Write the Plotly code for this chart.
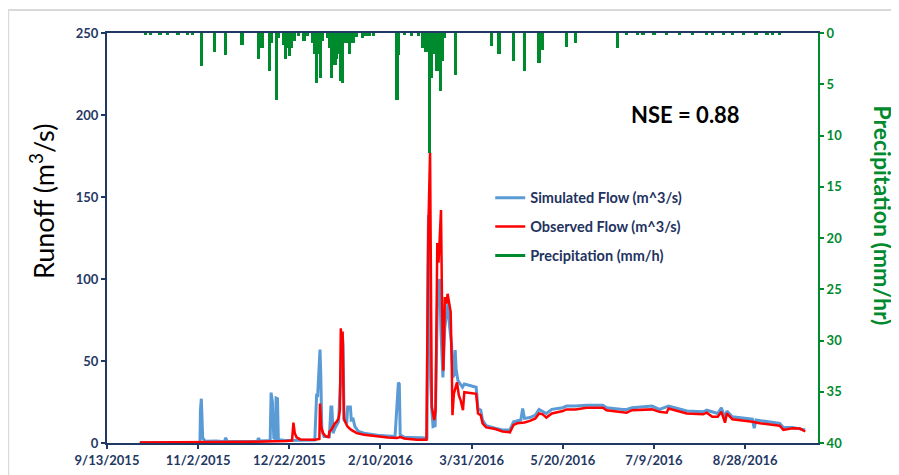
import plotly.graph_objects as go

# ---------------- data ----------------
obs_dates = ["2015-10-01", "2015-11-01", "2015-12-01", "2015-12-20", "2015-12-23 12:00", "2015-12-24 06:00",
             "2015-12-25", "2015-12-26", "2015-12-28", "2016-01-05", "2016-01-07 12:00", "2016-01-07 20:00",
             "2016-01-08 12:00", "2016-01-09 12:00", "2016-01-11", "2016-01-12 12:00", "2016-01-13", "2016-01-14",
             "2016-01-15", "2016-01-16", "2016-01-17", "2016-01-18", "2016-01-18 18:00", "2016-01-19 06:00",
             "2016-01-19 18:00", "2016-01-20 06:00", "2016-01-20 18:00", "2016-01-21", "2016-01-22", "2016-01-23",
             "2016-01-25", "2016-01-28", "2016-02-01", "2016-02-08", "2016-02-14", "2016-02-19", "2016-02-21",
             "2016-02-23", "2016-03-01", "2016-03-06 06:00", "2016-03-06 18:00", "2016-03-07 06:00",
             "2016-03-08 05:00", "2016-03-08 20:00", "2016-03-09 04:00", "2016-03-10 12:00", "2016-03-11 06:00",
             "2016-03-12 04:00", "2016-03-12 20:00", "2016-03-13 12:00", "2016-03-14 05:00", "2016-03-14 20:00",
             "2016-03-15 12:00", "2016-03-16 08:00", "2016-03-17 06:00", "2016-03-17 20:00", "2016-03-18 18:00",
             "2016-03-19 12:00", "2016-03-20 02:00", "2016-03-20 12:00", "2016-03-21 06:00", "2016-03-22 06:00",
             "2016-03-23", "2016-03-24", "2016-03-25", "2016-03-26 06:00", "2016-03-27", "2016-04-02 12:00",
             "2016-04-03 12:00", "2016-04-05", "2016-04-06", "2016-04-08", "2016-04-13", "2016-04-17", "2016-04-21",
             "2016-04-23", "2016-04-25", "2016-04-29", "2016-05-02", "2016-05-05", "2016-05-07", "2016-05-09",
             "2016-05-11", "2016-05-14", "2016-05-20", "2016-05-22", "2016-05-27", "2016-06-02", "2016-06-11",
             "2016-06-13", "2016-06-22", "2016-06-24", "2016-06-27", "2016-07-08", "2016-07-12", "2016-07-16",
             "2016-07-17", "2016-07-22", "2016-07-27", "2016-08-05", "2016-08-07", "2016-08-10", "2016-08-13",
             "2016-08-15", "2016-08-17", "2016-08-18", "2016-08-21", "2016-09-01", "2016-09-05", "2016-09-16",
             "2016-09-18", "2016-09-23", "2016-09-27", "2016-09-30"]
obs_flow = [0.3, 0.4, 0.8, 1.2, 1.5, 12.4,
            6, 3.5, 2.2, 2.0, 2.5, 24,
            10, 6, 4, 3.5, 7, 8,
            10, 12, 13, 15, 20, 70,
            60, 68, 30, 15, 12, 10,
            8, 6, 5, 4, 3.3, 3.0, 3.6,
            2.8, 2.0, 2.0, 60, 130,
            177, 40, 22, 14, 20,
            122, 110, 125, 142, 80,
            44, 89, 85, 91, 86,
            80, 50, 17, 30, 35,
            37, 29, 26, 20, 31, 30,
            18, 17, 12, 9.5, 8.5, 7.0, 6.5,
            11, 12, 12.5, 13.5, 15, 18, 17.5,
            15.5, 18, 19.5, 20.5, 20.5, 21.5, 21.5,
            20, 19, 18.5, 20, 20.5, 19, 18.5,
            21, 19.5, 18, 17.5, 18.5, 16, 16,
            19, 12.4, 18, 14.5, 13, 12, 10.5,
            8, 9, 8.8, 7]

sim_dates = ["2015-10-01", "2015-11-03", "2015-11-03 06:00", "2015-11-03 18:00", "2015-11-04 12:00", "2015-11-06",
             "2015-11-12", "2015-11-16 12:00", "2015-11-17", "2015-11-18", "2015-12-04 12:00", "2015-12-05",
             "2015-12-06", "2015-12-11 12:00", "2015-12-12", "2015-12-12 18:00", "2015-12-13 12:00",
             "2015-12-14 12:00", "2015-12-14 18:00", "2015-12-15 12:00", "2015-12-16", "2015-12-20", "2016-01-05",
             "2016-01-06", "2016-01-06 12:00", "2016-01-07 20:00", "2016-01-08 06:00", "2016-01-08 20:00",
             "2016-01-10", "2016-01-13", "2016-01-13 20:00", "2016-01-14 08:00", "2016-01-15", "2016-01-16",
             "2016-01-18", "2016-01-19 06:00", "2016-01-20", "2016-01-20 12:00", "2016-01-21", "2016-01-22 12:00",
             "2016-01-23", "2016-01-24 12:00", "2016-01-25", "2016-01-26", "2016-01-27", "2016-01-29", "2016-02-01",
             "2016-02-10", "2016-02-18", "2016-02-19 12:00", "2016-02-19 20:00", "2016-02-20 08:00",
             "2016-02-20 20:00", "2016-02-23", "2016-03-05", "2016-03-06 12:00", "2016-03-07", "2016-03-07 08:00",
             "2016-03-08", "2016-03-08 12:00", "2016-03-09 04:00", "2016-03-09 20:00", "2016-03-11", "2016-03-12 06:00",
             "2016-03-12 20:00", "2016-03-13 12:00", "2016-03-14 06:00", "2016-03-15 06:00", "2016-03-16 06:00",
             "2016-03-17", "2016-03-18", "2016-03-19", "2016-03-20", "2016-03-20 18:00", "2016-03-21 12:00",
             "2016-03-22", "2016-03-22 12:00", "2016-03-23 12:00", "2016-03-25", "2016-03-26", "2016-03-27",
             "2016-04-02 12:00", "2016-04-03 12:00", "2016-04-05", "2016-04-06", "2016-04-08", "2016-04-13",
             "2016-04-17", "2016-04-21", "2016-04-23", "2016-04-27", "2016-04-28", "2016-04-29", "2016-05-02",
             "2016-05-05", "2016-05-07", "2016-05-11", "2016-05-14", "2016-05-20", "2016-05-22", "2016-05-27",
             "2016-06-02", "2016-06-11", "2016-06-13", "2016-06-22", "2016-06-24", "2016-06-27", "2016-07-08",
             "2016-07-12", "2016-07-17", "2016-07-22", "2016-07-27", "2016-08-05", "2016-08-07", "2016-08-13",
             "2016-08-15", "2016-08-17", "2016-08-18", "2016-08-21", "2016-09-01", "2016-09-02", "2016-09-03",
             "2016-09-16", "2016-09-18", "2016-09-23", "2016-09-30"]
sim_flow = [0.3, 0.5, 20, 27, 3, 1,
            1.2, 0.8, 3.2, 1.0, 0.9, 3,
            1.2, 1.5, 30.7, 25, 3,
            2.5, 27.4, 27, 2, 1.5, 1.8,
            30, 28, 57, 42, 8,
            4, 4, 22, 22, 6, 9,
            13, 40, 67, 60, 14, 12,
            22, 22, 14, 14.5, 10, 7, 6,
            4.5, 4, 30, 36.8, 36,
            5, 3.5, 2.8, 3, 100, 139,
            120, 40, 20, 10, 10.5, 85,
            95, 100, 67, 40, 70,
            78, 85, 70, 60, 40, 42,
            56.7, 45, 38, 36, 34, 36,
            34, 21, 20, 14, 10.5, 9,
            8, 8, 13, 14, 21, 15, 15.5,
            17, 20.5, 18, 20.5, 21.5, 22.5, 22.5,
            23, 23, 21.5, 20.5, 20.5, 21.5, 22.5,
            20.5, 22.5, 21, 19.5, 19, 20, 18,
            21.5, 15, 19.5, 16, 14.5, 9, 14,
            12, 9.5, 9.5, 8]

precip_dates = ["2015-10-04", "2015-10-07", "2015-10-12", "2015-10-16", "2015-10-22", "2015-10-27", "2015-10-30",
                "2015-11-04", "2015-11-11", "2015-11-17", "2015-11-26", "2015-12-05", "2015-12-06", "2015-12-07",
                "2015-12-11", "2015-12-12", "2015-12-15", "2015-12-16", "2015-12-19", "2015-12-20", "2015-12-21",
                "2015-12-22", "2015-12-23", "2015-12-24", "2015-12-25", "2015-12-27", "2015-12-30", "2016-01-01",
                "2016-01-04", "2016-01-05", "2016-01-06", "2016-01-07", "2016-01-08", "2016-01-09", "2016-01-12",
                "2016-01-13", "2016-01-14", "2016-01-15", "2016-01-16", "2016-01-17", "2016-01-18", "2016-01-19",
                "2016-01-20", "2016-01-21", "2016-01-23", "2016-01-24", "2016-01-26", "2016-01-28", "2016-01-31",
                "2016-02-02", "2016-02-04", "2016-02-06", "2016-02-19", "2016-02-20", "2016-02-23", "2016-02-27",
                "2016-03-02", "2016-03-04", "2016-03-05", "2016-03-06", "2016-03-07", "2016-03-08", "2016-03-09",
                "2016-03-10", "2016-03-11", "2016-03-12", "2016-03-13", "2016-03-14", "2016-03-15", "2016-03-16",
                "2016-03-22", "2016-04-11", "2016-04-15", "2016-04-23", "2016-04-29", "2016-05-07", "2016-05-09",
                "2016-05-22", "2016-05-27", "2016-06-19", "2016-06-24", "2016-06-30", "2016-07-03", "2016-07-09",
                "2016-07-16", "2016-07-23", "2016-07-30", "2016-08-07", "2016-08-10", "2016-08-16", "2016-08-21",
                "2016-08-27", "2016-09-03", "2016-09-09", "2016-09-12", "2016-09-16"]
precip_mm = [0.1, 0.15, 0.1, 0.1, 0.15, 0.1, 0.1,
             3.2, 1.9, 2.1, 1.2, 2.5, 0.6, 1.5,
             3.7, 1.0, 6.5, 0.5, 1.2, 2.5, 1.5,
             2.2, 1.5, 0.6, 0.8, 0.3, 0.8, 0.3,
             1.0, 2.0, 4.9, 2.0, 4.4, 0.8, 0.5,
             1.5, 4.4, 2.5, 3.1, 2.5, 2.0, 4.7,
             4.9, 1.0, 1.0, 2.0, 1.0, 0.4, 0.5,
             0.3, 0.3, 0.3, 6.5, 2.1, 0.2, 0.3,
             0.3, 1.5, 1.0, 1.9, 1.5, 11.7, 4.4,
             2.0, 1.8, 3.7, 2.0, 5.7, 2.7, 0.5,
             4.1, 1.3, 2.0, 2.7, 3.7, 2.9, 1.7,
             1.4, 1.0, 1.5, 0.15, 0.15, 0.15, 0.15,
             0.15, 0.15, 0.15, 0.15, 0.15, 0.15, 0.15,
             0.15, 0.15, 0.15, 0.15, 0.15]

x_tick_vals = ["2015-09-13", "2015-11-02", "2015-12-22", "2016-02-10", "2016-03-31", "2016-05-20",
               "2016-07-09", "2016-08-28"]
x_tick_text = ["9/13/2015", "11/2/2015", "12/22/2015", "2/10/2016", "3/31/2016", "5/20/2016",
               "7/9/2016", "8/28/2016"]
runoff_ticks = [0, 50, 100, 150, 200, 250]
precip_ticks = [0, 5, 10, 15, 20, 25, 30, 35, 40]

# ---------------- style ----------------
NAVY = "#1F3864"
GREEN = "#008A2E"
BLUE = "#5B9BD5"
RED = "#FF0000"
FONT = "Lato"

fig = go.Figure()
fig.add_trace(go.Scatter(x=sim_dates, y=sim_flow, mode="lines", name="Simulated Flow (m^3/s)",
                         line=dict(color=BLUE, width=3), legendgroup="a"))
fig.add_trace(go.Scatter(x=obs_dates, y=obs_flow, mode="lines", name="Observed Flow (m^3/s)",
                         line=dict(color=RED, width=2.5), legendgroup="b"))
fig.add_trace(go.Bar(x=precip_dates, y=precip_mm, yaxis="y2", marker=dict(color=GREEN, line=dict(width=0)),
                     width=1.8 * 86400000, showlegend=False, name="Precipitation (mm/h)"))
fig.add_trace(go.Scatter(x=[None], y=[None], mode="lines", name="Precipitation (mm/h)",
                         line=dict(color=GREEN, width=3), legendgroup="c"))

tickfont_navy = dict(family=FONT, size=13, color=NAVY, weight="bold")
fig.update_layout(
    width=891, height=467,
    margin=dict(l=99, r=81, t=25, b=32, autoexpand=False),
    paper_bgcolor="white", plot_bgcolor="white",
    showlegend=True,
    bargap=0,
    legend=dict(x=0.539, y=0.637, xanchor="left", yanchor="top", bgcolor="rgba(0,0,0,0)",
                font=dict(family=FONT, size=14.5, color="#22325E", weight="bold"), tracegroupgap=7,
                itemwidth=30),
    xaxis=dict(type="date", range=["2015-09-13", "2016-10-07"], tickvals=x_tick_vals, ticktext=x_tick_text,
               showline=True, linecolor=NAVY, linewidth=2, mirror=True, ticks="outside", ticklen=4,
               tickcolor=NAVY, tickwidth=1.5, showgrid=False, zeroline=False, tickfont=tickfont_navy,
               automargin=False),
    yaxis=dict(range=[0, 250], tickvals=runoff_ticks, showline=True, linecolor=NAVY, linewidth=2,
               ticks="outside", ticklen=4, tickcolor=NAVY, tickwidth=1.5, showgrid=False, zeroline=False,
               tickfont=tickfont_navy, automargin=False),
    yaxis2=dict(range=[40, 0], tickvals=precip_ticks, overlaying="y", side="right", showline=True,
                linecolor=GREEN, linewidth=2, ticks="outside", ticklen=4, tickcolor=GREEN, tickwidth=1.5,
                showgrid=False, zeroline=False, automargin=False,
                tickfont=dict(family=FONT, size=13, color=GREEN, weight="bold")),
    annotations=[
        dict(text="NSE = 0.88", x=0.814, y=0.80, xref="paper", yref="paper", showarrow=False,
             xanchor="center", yanchor="middle",
             font=dict(family=FONT, size=22, color="black", weight="bold")),
        dict(text="Runoff (m<sup>3</sup>/s)", x=-0.0914, y=0.59, xref="paper", yref="paper", showarrow=False,
             xanchor="center", yanchor="middle", textangle=-90,
             font=dict(family=FONT, size=27, color="black")),
        dict(text="Precipitation (mm/hr)", x=1.092, y=0.554, xref="paper", yref="paper", showarrow=False,
             xanchor="center", yanchor="middle", textangle=90,
             font=dict(family=FONT, size=23, color=GREEN, weight="bold")),
    ],
    shapes=[dict(type="rect", xref="paper", yref="paper", x0=-0.139, x1=1.14, y0=-0.2, y1=1.056,
                 line=dict(color="#D9D9D9", width=2), fillcolor="rgba(0,0,0,0)", layer="below")],
)

fig.write_html("out.html")
